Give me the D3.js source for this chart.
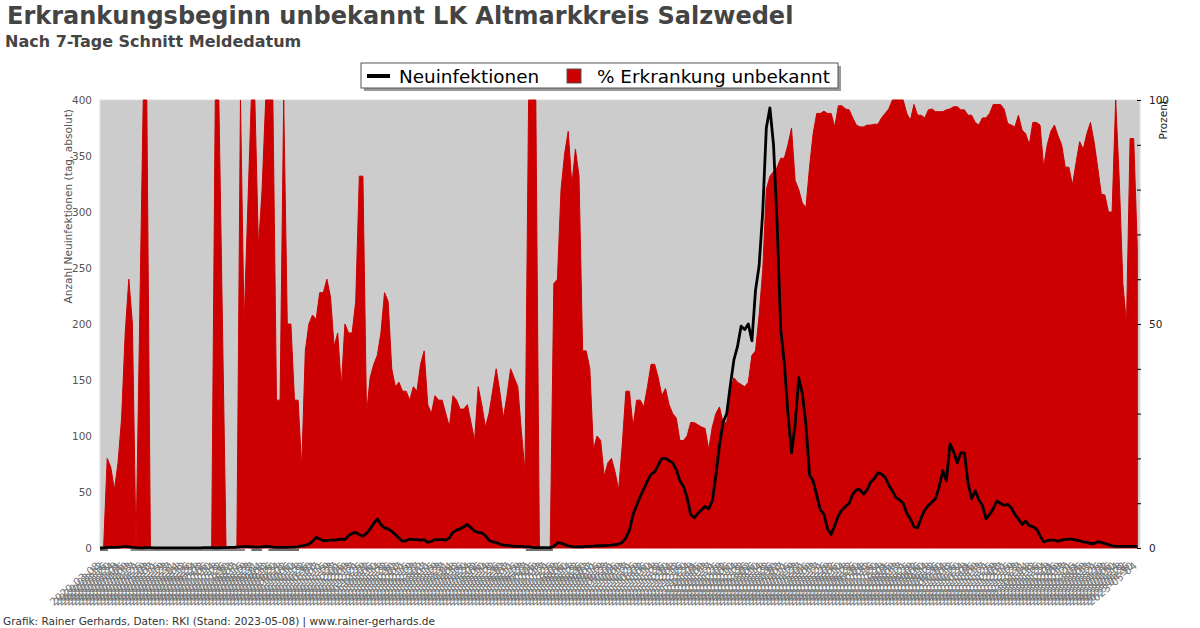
<!DOCTYPE html>
<html>
<head>
<meta charset="utf-8">
<script src="https://cdn.jsdelivr.net/npm/d3@7"></script>
<style>
  body { margin: 0; background: #fff; }
  svg { display: block; font-family: "DejaVu Sans", sans-serif; }
</style>
</head>
<body>
<script>
const startDay = "2020-03-08";
const endDay = "2023-05-07";
const stepDays = 4;

// 7-Tage-Schnitt Neuinfektionen (linke Achse)
const neuinfektionen = [
  0, 0.2, 0.5, 0.5, 0.5, 0.8, 1, 1.5, 1, 0.5,
  0.3, 0.2, 0.2, 0.3, 0.3, 0.2, 0.2, 0.2, 0.2, 0.2, 0.2, 0.2, 0.2, 0.2, 0.2, 0.2, 0.2, 0.2, 0.2, 0.3, 0.3, 0.3, 0.2, 0.2, 0.3, 0.4, 0.5, 0.6, 0.8,
  1, 1.2, 1.2, 1, 0.8, 0.8, 1, 1.5, 1.2, 0.8, 0.6, 0.5, 0.5, 0.6, 0.8, 0.8,
  1, 2, 2.5, 3.5, 6, 9.5, 8, 6.5, 6.5, 7, 7, 7.5, 8, 7.5, 11, 13, 14, 12, 10.5,
  13, 17, 22, 26, 21, 18, 17, 15, 12, 9, 6, 6.5, 8, 7.5, 7.5, 7, 7.5, 5, 6, 7.5,
  7.5, 7.5, 7, 9, 14, 16, 17, 19, 21, 18, 15, 14, 13.5, 11, 7, 5.5, 5, 3.5, 2.5, 2.4,
  2, 1.5, 1.5, 1.5, 1, 1, 0.6, 0.4, 0.3, 0.3, 0.3, 0.3, 1.5, 4.5, 4.5, 3, 2, 1.2, 1, 1,
  1, 1.5, 1.5, 1.7, 2, 2, 2.2, 2.4, 2.5, 3, 3.5, 5, 9, 16, 30, 38, 46, 53, 60, 66,
  68, 74, 80, 80, 78, 76, 70, 60, 55, 45, 30, 27, 31, 34, 37, 35, 42, 65, 92, 112,
  120, 145, 168, 180, 198, 195, 200, 185, 230, 252, 300, 375, 393, 360, 290, 195, 165, 120, 85, 110,
  152, 138, 110, 65, 60, 47, 34, 30, 17, 12, 20, 29, 34, 37, 40, 48, 52, 52, 48, 52,
  59, 62, 67, 66, 63, 56, 51, 45, 43, 40, 31, 26, 19, 18, 27, 34, 38, 41, 44, 55,
  69, 60, 93, 86, 76, 85, 85, 58, 44, 51, 43, 38, 26, 30, 35, 42, 40, 38, 39, 36,
  30, 26, 21, 24, 20, 19, 17, 11, 5.5, 6.5, 7, 7, 6, 7, 7.7, 8, 8, 7, 6.5, 5.5,
  5, 4, 4, 5.5, 5, 4, 3, 2, 1.5, 1.5, 1.5, 1.5, 1.5, 1.5, 1.5
];

// Anteil Erkrankungsbeginn unbekannt in Prozent (rechte Achse)
const prozentUnbekannt = [
  0, 0, 20, 18, 13, 19, 29, 48, 60, 50, 0, 50, 100, 100, 0,
  0, 0, 0, 0, 0, 0, 0, 0, 0, 0, 0, 0, 0, 0, 0, 0, 0,
  100, 100, 50, 0, 0, 0, 0, 100, 50, 75, 100, 100, 67, 80, 100, 100, 100, 33,
  33, 100, 50, 50, 33, 33, 18, 44, 50, 52, 51, 57, 57, 60, 56, 45, 48, 36, 50, 48,
  48, 55, 83, 83, 30, 38, 41, 43, 48, 57, 55, 40, 36, 37, 35, 35, 33, 36, 35, 41,
  44, 32, 30, 34, 33, 33, 30, 27, 34, 33, 31, 31, 32, 28, 24, 36, 32, 27, 30, 35,
  40, 35, 29, 34, 40, 38, 36, 26, 17, 100, 100, 100, 0, 0, 0, 0, 59, 60, 80, 88,
  93, 81, 89, 83, 44, 44, 40, 22, 25, 24, 16, 19, 20, 17, 13, 23, 35, 35, 27, 33,
  33, 31.5, 36, 41, 41, 38, 34, 35.6, 32, 30, 29, 24, 24, 25, 28, 28, 27.5, 27, 26.7, 22,
  27, 30, 31.5, 28, 28, 35, 38, 37, 36.5, 36, 37, 43, 44, 52, 62, 80, 83, 84, 85, 87,
  87, 90, 93.7, 82, 80, 77, 76, 85, 92.5, 97, 97, 97.5, 97, 97, 94, 98.7, 98.7, 98, 97.8, 96,
  94.4, 94, 94, 94.4, 94.4, 94.6, 94.6, 96, 97, 98, 100, 100, 100, 100, 97, 95.5, 99, 96.6, 96.6, 96,
  97.8, 98, 97.4, 97.4, 97.4, 97.8, 98, 98.5, 98.5, 97.8, 97.8, 96.6, 96.6, 95, 94.4, 96, 96, 97, 99, 99,
  99, 98, 94.8, 94.4, 94, 96.6, 93.3, 92.5, 90, 95, 95, 94.4, 85, 90, 93, 94.4, 92, 90, 85, 85,
  81, 86, 90.7, 89, 92.5, 95, 90.7, 85, 79, 78.8, 75, 75, 100, 82, 59, 50, 91.4, 91.4, 67
];

// Tage (ab Start) ohne Erkrankungsangaben, als dunkle Linie unter der Achse
const ohneAngabe = [[0, 9], [34, 161], [168, 180], [187, 221], [473, 503]];

const leftTicks = [0, 50, 100, 150, 200, 250, 300, 350, 400];
const rightTicks = [0, 10, 20, 30, 40, 50, 60, 70, 80, 90, 100];
const rightLabels = [0, 50, 100];

const titel = "Erkrankungsbeginn unbekannt LK Altmarkkreis Salzwedel";
const untertitel = "Nach 7-Tage Schnitt Meldedatum";
const quelle = "Grafik: Rainer Gerhards, Daten: RKI (Stand: 2023-05-08) | www.rainer-gerhards.de";

const width = 1200, height = 628;
const plot = { left: 100, right: 1140, top: 100, bottom: 548 };

const parse = d3.utcParse("%Y-%m-%d");
const fmt = d3.utcFormat("%Y-%m-%d");
const start = parse(startDay);

const rows = neuinfektionen.map((v, i) => ({
  date: d3.utcDay.offset(start, i * stepDays),
  faelle: v,
  prozent: prozentUnbekannt[i]
}));

const x = d3.scaleUtc().domain([start, parse(endDay)]).range([plot.left, plot.right]);
const yL = d3.scaleLinear().domain([0, 400]).range([plot.bottom, plot.top]);
const yR = d3.scaleLinear().domain([0, 100]).range([plot.bottom, plot.top]);

const svg = d3.select("body").append("svg")
  .attr("width", width).attr("height", height);

// Titel
svg.append("text").attr("x", 7).attr("y", 24)
  .attr("font-size", 24).attr("font-weight", "bold").attr("fill", "#444")
  .text(titel);
svg.append("text").attr("x", 5).attr("y", 47)
  .attr("font-size", 16).attr("font-weight", "bold").attr("fill", "#444")
  .text(untertitel);

// Plotfläche
svg.append("rect")
  .attr("x", plot.left).attr("y", plot.top)
  .attr("width", plot.right - plot.left).attr("height", plot.bottom - plot.top)
  .attr("fill", "#cccccc").attr("stroke", "#dddddd");

// Prozent-Fläche
const area = d3.area()
  .x(d => x(d.date))
  .y0(yR(0))
  .y1(d => yR(d.prozent));

svg.append("path").datum(rows)
  .attr("d", area)
  .attr("fill", "#cc0000")
  .attr("stroke", "#cc0000").attr("stroke-width", 1);

// Linie unter der Achse
svg.append("g").selectAll("line").data(ohneAngabe).join("line")
  .attr("x1", d => x(d3.utcDay.offset(start, d[0])))
  .attr("x2", d => x(d3.utcDay.offset(start, d[1])))
  .attr("y1", plot.bottom + 2).attr("y2", plot.bottom + 2)
  .attr("stroke", "#111").attr("stroke-width", 1.2);

// Neuinfektionen
const line = d3.line()
  .x(d => x(d.date))
  .y(d => yL(d.faelle));

svg.append("path").datum(rows)
  .attr("d", line)
  .attr("fill", "none")
  .attr("stroke", "#000").attr("stroke-width", 2.8)
  .attr("stroke-linejoin", "round");

// linke Achse
const axL = svg.append("g")
  .attr("transform", `translate(${plot.left},0)`)
  .call(d3.axisLeft(yL).tickValues(leftTicks).tickSize(0).tickPadding(8));
axL.select(".domain").remove();
axL.selectAll("text").attr("font-size", 10.5).attr("fill", "#555").attr("font-family", "DejaVu Sans");

svg.append("text")
  .attr("transform", `translate(72,${plot.top + 9}) rotate(-90)`)
  .attr("text-anchor", "end")
  .attr("font-size", 10.6).attr("fill", "#555")
  .text("Anzahl Neuinfektionen (tag, absolut)");

// rechte Achse
const axR = svg.append("g")
  .attr("transform", `translate(${plot.right},0)`)
  .call(d3.axisRight(yR).tickValues(rightTicks).tickSize(-3).tickPadding(9)
    .tickFormat(d => rightLabels.includes(d) ? d : ""));
axR.select(".domain").remove();
axR.selectAll("line").attr("stroke", "#000").attr("x2", 1).attr("x1", -3);
axR.selectAll("text").attr("font-size", 10.5).attr("fill", "#222").attr("font-family", "DejaVu Sans");

svg.append("text")
  .attr("transform", `translate(1167,${plot.top}) rotate(-90)`)
  .attr("text-anchor", "end")
  .attr("font-size", 10.5).attr("fill", "#222")
  .text("Prozent");

// x-Achse: Datumsbeschriftungen
const axX = svg.append("g")
  .attr("transform", `translate(0,${plot.bottom})`)
  .call(d3.axisBottom(x).tickValues(rows.map(d => d.date)).tickSize(0).tickFormat(fmt));
axX.select(".domain").remove();
axX.selectAll("text")
  .attr("x", 0).attr("y", 0).attr("dy", 0)
  .attr("text-anchor", "end")
  .attr("transform", "translate(0,19) rotate(-40)")
  .attr("font-size", 10.5).attr("fill", "#777").attr("font-family", "DejaVu Sans");

// Legende
const lg = svg.append("g").attr("transform", "translate(361,63)");
lg.append("rect").attr("x", 3).attr("y", 3).attr("width", 477).attr("height", 25).attr("fill", "#999");
lg.append("rect").attr("width", 477).attr("height", 25).attr("fill", "#fff").attr("stroke", "#555");
lg.append("line").attr("x1", 6).attr("x2", 29).attr("y1", 13).attr("y2", 13)
  .attr("stroke", "#000").attr("stroke-width", 4);
lg.append("text").attr("x", 38).attr("y", 20).attr("font-size", 18.4).attr("fill", "#000")
  .text("Neuinfektionen");
lg.append("rect").attr("x", 206).attr("y", 6).attr("width", 14).attr("height", 14)
  .attr("fill", "#cc0000").attr("stroke", "#555");
lg.append("text").attr("x", 236).attr("y", 20).attr("font-size", 18.4).attr("fill", "#000")
  .text("% Erkrankung unbekannt");

// Quelle
svg.append("text").attr("x", 3).attr("y", 625)
  .attr("font-size", 10.5).attr("fill", "#333")
  .text(quelle);
</script>
</body>
</html>
